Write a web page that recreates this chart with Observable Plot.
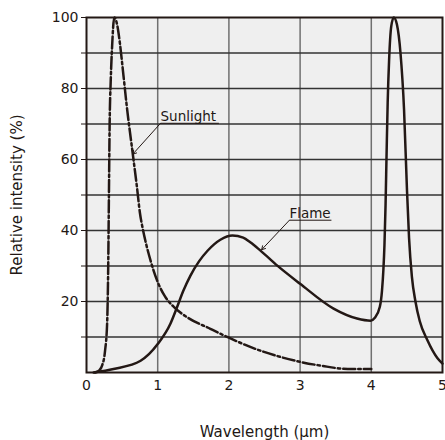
<!DOCTYPE html>
<html><head><meta charset="utf-8">
<script src="https://cdn.jsdelivr.net/npm/d3@7"></script>
<script src="https://cdn.jsdelivr.net/npm/@observablehq/plot@0.6"></script>
<style>body{margin:0;background:#fff}</style>
</head><body><div id="chart"></div>
<script>
const sunlightX = [0.12,0.18,0.22,0.26,0.29,0.305,0.315,0.325,0.34,0.36,0.39,0.43,0.47,0.52,0.56,0.66,0.71,0.75,0.79,0.84,0.90,1.0,1.1,1.23,1.41,1.74,2.0,2.3,2.72,3.0,3.3,3.67,4.0];
const sunlightY = [0,0.6,2,6,14,30,50,70,82,92,100,98,92.6,83.5,76,60,52,45,40.5,36,31.5,25.5,21.5,18.4,15.6,12.3,9.8,7.2,4.4,3,1.9,1,1];
const flameX = [0.1,0.38,0.76,1.0,1.18,1.27,1.36,1.46,1.58,1.7,1.88,2.05,2.2,2.3,2.44,2.68,3.0,3.47,3.8,3.99,4.05,4.12,4.15,4.17,4.185,4.2,4.215,4.23,4.25,4.28,4.316,4.36,4.41,4.46,4.5,4.53,4.57,4.62,4.68,4.79,4.93,5.0];
const flameY = [0,1,3.3,8,13.8,18.3,23,27.3,31.3,34.3,37.4,38.6,38,36.7,34.4,30.1,25,18,15.2,14.6,15.4,18.5,23,29,36,47,62,76,88,97.5,100,98,90,74,52,38,27,20,14.5,9,4,2.5];
const xTicks = [0,1,2,3,4,5];
const yTicks = [10,20,30,40,50,60,70,80,90,100];
const yLabels = [20,40,60,80,100];
const labelNames = ["Sunlight","Flame"];
const labelX = [1.04,2.85];
const labelY = [70.2,42.9];
const underlineEndX = [1.86,3.44];
const arrowTipX = [0.65,2.46];
const arrowTipY = [61.5,34.6];

const sunlight = sunlightX.map((x,i)=>({x, y: sunlightY[i]}));
const flame = flameX.map((x,i)=>({x, y: flameY[i]}));
const notes = labelNames.map((name,i)=>({name, x: labelX[i], y: labelY[i], x2: underlineEndX[i], tx: arrowTipX[i], ty: arrowTipY[i]}));
const ink = "#231815";

const chart = Plot.plot({
  width: 445, height: 440,
  marginLeft: 86, marginRight: 3, marginTop: 17, marginBottom: 68,
  style: {fontFamily: "DejaVu Sans", fontSize: "14px", color: "#231815", background: "#fff"},
  x: {domain: [0,5]},
  y: {domain: [0,100]},
  marks: [
    Plot.frame({fill: "#efefef", stroke: null}),
    Plot.gridX([1,2,3,4], {stroke: "#707070", strokeOpacity: 1, strokeWidth: 1.5}),
    Plot.gridY(yTicks.slice(0,-1), {stroke: "#333", strokeOpacity: 1, strokeWidth: 1.5}),
    Plot.axisX({ticks: xTicks, tickSize: 0, tickPadding: 8, tickFormat: d => String(d), label: null, fontSize: 14}),
    Plot.axisX({ticks: [], tickSize: 0, label: "Wavelength (μm)", labelAnchor: "center", labelArrow: "none", labelOffset: 64, fontSize: 15}),
    Plot.axisY({ticks: yTicks, tickSize: 5, tickPadding: 3, tickFormat: d => yLabels.includes(d) ? String(d) : "", label: null, fontSize: 14}),
    Plot.axisY({ticks: [], tickSize: 0, label: "Relative intensity (%)", labelAnchor: "center", labelArrow: "none", labelOffset: 75, fontSize: 15}),
    Plot.line(sunlight, {x: "x", y: "y", curve: "monotone-x", stroke: ink, strokeWidth: 2.5, strokeDasharray: "12,3,2.5,3"}),
    Plot.line(flame, {x: "x", y: "y", curve: "monotone-x", stroke: ink, strokeWidth: 2.5}),
    Plot.link(notes, {x1: "x", y1: "y", x2: "x2", y2: "y", stroke: ink, strokeWidth: 1}),
    Plot.arrow(notes, {x1: "x", y1: "y", x2: "tx", y2: "ty", stroke: ink, strokeWidth: 1, headLength: 6}),
    Plot.text(notes, {x: "x", y: "y", text: "name", textAnchor: "start", lineAnchor: "bottom", dy: -2, fontSize: 13.5, fill: ink}),
    Plot.frame({stroke: ink, strokeWidth: 2})
  ]
});
document.getElementById("chart").appendChild(chart);
</script>
</body></html>
